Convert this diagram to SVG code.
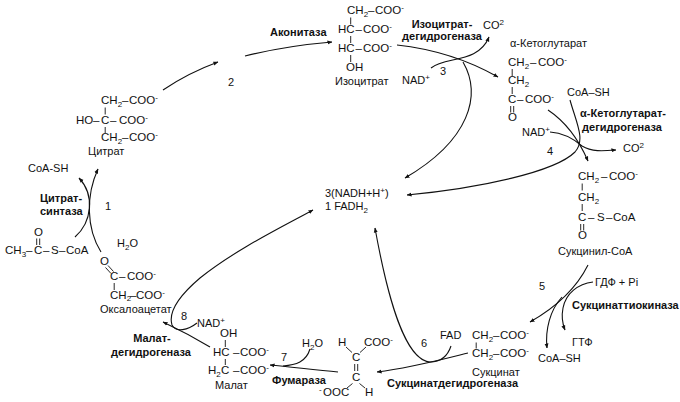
<svg xmlns="http://www.w3.org/2000/svg" width="680" height="402" viewBox="0 0 680 402">
<defs>
<style>
text{font-family:"Liberation Sans",Arial,Helvetica,sans-serif;font-size:11px;fill:#111}
.f{font-size:11.5px}
.b{font-weight:bold}
.s{font-size:8px}
.c{fill:none;stroke:#111;stroke-width:1.1}
.bd{fill:none;stroke:#111;stroke-width:0.9}
</style>
<marker id="ah" viewBox="0 0 6 6" refX="5.5" refY="3" markerWidth="5" markerHeight="5" markerUnits="userSpaceOnUse" orient="auto"><path d="M0,0.6 L6,3 L0,5.4 z" fill="#111"/></marker>
</defs>
<rect width="680" height="402" fill="#fff"/>

<g id="connectors" class="c">
<path marker-end="url(#ah)" d="M75,237 C92,222 95,195 79,178"/>
<path marker-end="url(#ah)" d="M101,252 C86,228 86,195 98,169"/>
<path marker-end="url(#ah)" d="M163,90 Q188,73 218,62"/>
<path marker-end="url(#ah)" d="M245,56 Q285,46 332,42"/>
<path marker-end="url(#ah)" d="M397,45 Q452,51 498,77"/>
<path marker-end="url(#ah)" d="M431,68 C445,56 478,64 489,37"/>
<path marker-end="url(#ah)" d="M463,62 C482,95 470,140 405,178"/>
<path marker-end="url(#ah)" d="M548,110 C563,120 578,138 588,161"/>
<path marker-end="url(#ah)" d="M570,100 C576,122 586,140 575,152 C555,172 480,188 407,195"/>
<path marker-end="url(#ah)" d="M550,132 C565,133 575,140 582,146 C592,152 603,151 616,150"/>
<path marker-end="url(#ah)" d="M588,265 C578,285 560,305 530,322"/>
<path marker-end="url(#ah)" d="M593,282 C578,284 566,293 563,308 C561,318 563,325 565,330"/>
<path marker-end="url(#ah)" d="M562,297 C550,310 545,330 547,348"/>
<path marker-end="url(#ah)" d="M468,353 C440,360 410,368 377,372"/>
<path marker-end="url(#ah)" d="M451,346 C447,358 440,362 430,362 C405,360 388,300 375,228"/>
<path marker-end="url(#ah)" d="M338,372 C315,370 292,367 270,365"/>
<path d="M310,349 C306,362 296,365 283,366"/>
<path marker-end="url(#ah)" d="M210,347 C195,338 180,330 163,322"/>
<path marker-end="url(#ah)" d="M197,323 C188,330 176,333 172,325 C168,312 180,295 200,278 C235,250 280,228 313,210"/>
</g>

<g id="center">
<text x="325" y="197">3(NADH+H<tspan class="s" dy="-4">+</tspan><tspan dy="4">)</tspan></text>
<text x="325" y="210">1 FADH<tspan class="s" dy="3">2</tspan></text>
</g>

<g id="citrate">
<text class="f" y="104"><tspan x="101">CH</tspan><tspan class="s" dy="3">2</tspan><tspan x="122" dy="-3">–</tspan><tspan x="129">COO</tspan><tspan class="s" dy="-4">-</tspan></text>
<text class="f" y="124"><tspan x="76">HO</tspan><tspan x="93">–</tspan><tspan x="101">C</tspan><tspan x="110">–</tspan><tspan x="119">COO</tspan><tspan class="s" dy="-4">-</tspan></text>
<text class="f" y="141"><tspan x="101">CH</tspan><tspan class="s" dy="3">2</tspan><tspan x="122" dy="-3">–</tspan><tspan x="129">COO</tspan><tspan class="s" dy="-4">-</tspan></text>
<path class="bd" d="M105.2,107.5V114.5M105.2,127V133"/>
<text x="88" y="155">Цитрат</text>
</g>

<g id="step1">
<text x="28" y="172">CoA-SH</text>
<text class="b" x="40" y="202">Цитрат-</text>
<text class="b" x="40" y="215">синтаза</text>
<text x="105" y="210">1</text>
<text x="117" y="247">H<tspan class="s" dy="3">2</tspan><tspan dy="-3">O</tspan></text>
</g>

<g id="acetylcoa">
<text class="f" x="34" y="236">O</text>
<path class="bd" d="M36.7,238.5V245M39.7,238.5V245"/>
<text class="f" y="254"><tspan x="5">CH</tspan><tspan class="s" dy="3">3</tspan><tspan x="26" dy="-3">–</tspan><tspan x="34">C</tspan><tspan x="43">–</tspan><tspan x="51">S</tspan><tspan x="59">–</tspan><tspan x="66">CoA</tspan></text>
</g>

<g id="oxaloacetate">
<text class="f" x="100" y="265">O</text>
<path class="bd" d="M105.5,267.5L111,273.5M108,265.5L113.5,271.5"/>
<text class="f" y="280"><tspan x="110">C</tspan><tspan x="119">–</tspan><tspan x="127">COO</tspan><tspan class="s" dy="-4">-</tspan></text>
<path class="bd" d="M114.2,283V290"/>
<text class="f" y="298.5"><tspan x="110">CH</tspan><tspan class="s" dy="2.5">2</tspan><tspan x="130" dy="-2.5">–</tspan><tspan x="136">COO</tspan><tspan class="s" dy="-4">-</tspan></text>
<text x="100" y="313">Оксалоацетат</text>
</g>

<g id="step2">
<text x="228" y="86">2</text>
<text class="b" x="270" y="36">Аконитаза</text>
</g>

<g id="isocitrate">
<text class="f" y="14"><tspan x="347">CH</tspan><tspan class="s" dy="3">2</tspan><tspan x="368" dy="-3">–</tspan><tspan x="375">COO</tspan><tspan class="s" dy="-4">-</tspan></text>
<text class="f" y="33"><tspan x="338">HC</tspan><tspan x="355.5">–</tspan><tspan x="363">COO</tspan><tspan class="s" dy="-4">-</tspan></text>
<text class="f" y="52"><tspan x="338">HC</tspan><tspan x="355.5">–</tspan><tspan x="363">COO</tspan><tspan class="s" dy="-4">-</tspan></text>
<text class="f" x="346" y="71">OH</text>
<path class="bd" d="M350.7,17.5V24.5M350.7,36V43M350.7,55V62"/>
<text x="335" y="85">Изоцитрат</text>
</g>

<g id="step3">
<text class="b" x="442" y="28" text-anchor="middle">Изоцитрат-</text>
<text class="b" x="442" y="40" text-anchor="middle">дегидрогеназа</text>
<text x="483" y="29">CO<tspan class="s" dy="-4">2</tspan></text>
<text x="402" y="84">NAD<tspan class="s" dy="-4">+</tspan></text>
<text x="440" y="75">3</text>
</g>

<g id="ketoglutarate">
<text x="510" y="47">α-Кетоглутарат</text>
<text class="f" y="66"><tspan x="508">CH</tspan><tspan class="s" dy="3">2</tspan><tspan x="530" dy="-3">–</tspan><tspan x="538">COO</tspan><tspan class="s" dy="-4">-</tspan></text>
<text class="f" y="84"><tspan x="508">CH</tspan><tspan class="s" dy="3">2</tspan></text>
<text class="f" y="103"><tspan x="508">C</tspan><tspan x="517">–</tspan><tspan x="525">COO</tspan><tspan class="s" dy="-4">-</tspan></text>
<text class="f" x="508" y="121">O</text>
<path class="bd" d="M512.2,69V76M512.2,87V94M510.7,106V112.5M513.7,106V112.5"/>
</g>

<g id="step4">
<text x="567" y="96">CoA–SH</text>
<text class="b" x="623" y="117" text-anchor="middle">α-Кетоглутарат-</text>
<text class="b" x="622" y="131" text-anchor="middle">дегидрогеназа</text>
<text x="522" y="136">NAD<tspan class="s" dy="-4">+</tspan></text>
<text x="547" y="155">4</text>
<text x="623" y="152">CO<tspan class="s" dy="-4">2</tspan></text>
</g>

<g id="succinylcoa">
<text class="f" y="180"><tspan x="578">CH</tspan><tspan class="s" dy="3">2</tspan><tspan x="601" dy="-3">–</tspan><tspan x="609">COO</tspan><tspan class="s" dy="-4">-</tspan></text>
<text class="f" y="201"><tspan x="578">CH</tspan><tspan class="s" dy="3">2</tspan></text>
<text class="f" y="221"><tspan x="578">C</tspan><tspan x="588">–</tspan><tspan x="597">S</tspan><tspan x="606">–</tspan><tspan x="613">CoA</tspan></text>
<text class="f" x="578" y="239">O</text>
<path class="bd" d="M582.2,183.5V190.5M582.2,204V211M580.7,224V230.5M583.7,224V230.5"/>
<text x="558" y="255">Сукцинил-СоА</text>
</g>

<g id="step5">
<text x="595" y="286">ГДФ + Pi</text>
<text x="539" y="290">5</text>
<text class="b" x="572" y="309">Сукцинаттиокиназа</text>
<text x="572" y="346">ГТФ</text>
<text x="538" y="362">CoA–SH</text>
</g>

<g id="succinate">
<text class="f" y="339"><tspan x="472">CH</tspan><tspan class="s" dy="3">2</tspan><tspan x="493" dy="-3">–</tspan><tspan x="500">COO</tspan><tspan class="s" dy="-4">-</tspan></text>
<text class="f" y="357"><tspan x="472">CH</tspan><tspan class="s" dy="3">2</tspan><tspan x="493" dy="-3">–</tspan><tspan x="500">COO</tspan><tspan class="s" dy="-4">-</tspan></text>
<path class="bd" d="M476.2,342.5V348.5"/>
<text x="472" y="376">Сукцинат</text>
</g>

<g id="step6">
<text x="440" y="339">FAD</text>
<text x="421" y="347">6</text>
<text class="b" x="387" y="387">Сукцинатдегидрогеназа</text>
</g>

<g id="fumarate">
<text class="f" x="338" y="346">H</text>
<text class="f" x="364" y="346">COO<tspan class="s" dy="-4">-</tspan></text>
<text class="f" x="352" y="361">C</text>
<text class="f" x="352" y="381">C</text>
<text class="f" y="396"><tspan class="s" x="319" dy="-4">-</tspan><tspan x="323" dy="4">OOC</tspan></text>
<text class="f" x="365" y="396">H</text>
<path class="bd" d="M346,347L352,352.5M360,352.5L366,347M354.7,364V371M357.7,364V371M352.5,383.5L347,388M359.5,383.5L365,388"/>
</g>

<g id="step7">
<text x="302" y="347">H<tspan class="s" dy="3">2</tspan><tspan dy="-3">O</tspan></text>
<text x="281" y="361">7</text>
<text class="b" x="272" y="384">Фумараза</text>
</g>

<g id="malate">
<text class="f" x="220" y="337">OH</text>
<text class="f" y="356"><tspan x="213">HC</tspan><tspan x="233">–</tspan><tspan x="240">COO</tspan><tspan class="s" dy="-4">-</tspan></text>
<text class="f" y="374"><tspan x="208">H</tspan><tspan class="s" dy="3">2</tspan><tspan x="221" dy="-3">C</tspan><tspan x="233">–</tspan><tspan x="240">COO</tspan><tspan class="s" dy="-4">-</tspan></text>
<path class="bd" d="M225.3,340V347M225.3,359V365"/>
<text x="215" y="389">Малат</text>
</g>

<g id="step8">
<text class="b" x="152" y="342" text-anchor="middle">Малат-</text>
<text class="b" x="151" y="356" text-anchor="middle">дегидрогеназа</text>
<text x="181" y="320">8</text>
<text x="197" y="327">NAD<tspan class="s" dy="-4">+</tspan></text>
</g>
</svg>
